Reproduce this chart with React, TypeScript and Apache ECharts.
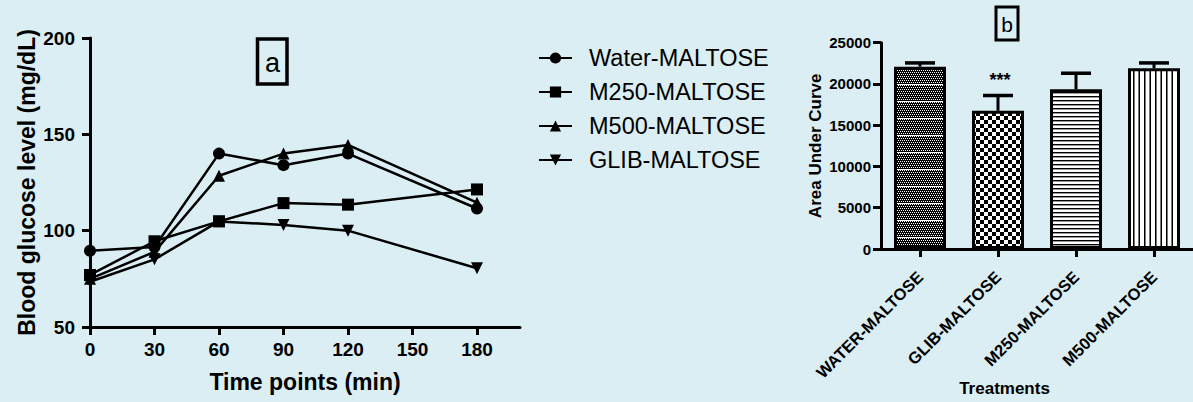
import React, { useEffect, useRef } from 'react';
import * as echarts from 'echarts';

// ---- Data (panel a) ----
const timePoints = [0, 30, 60, 90, 120, 180];
const timeTicks = [0, 30, 60, 90, 120, 150, 180];
const waterMaltose = [89.6, 91.5, 140, 134, 140, 111.5];
const m250Maltose = [77, 94.5, 104.8, 114.3, 113.5, 121.4];
const m500Maltose = [75, 89, 128.5, 140, 144.5, 114.5];
const glibMaltose = [73.5, 85.1, 104.8, 103, 100, 80.5];
const seriesNames = ['Water-MALTOSE', 'M250-MALTOSE', 'M500-MALTOSE', 'GLIB-MALTOSE'];

// ---- Data (panel b) ----
const treatments = ['WATER-MALTOSE', 'GLIB-MALTOSE', 'M250-MALTOSE', 'M500-MALTOSE'];
const aucMean = [22100, 16750, 19350, 21900];
const aucSem = [450, 1850, 1950, 650];
const aucSig = ['', '***', '', ''];

const FONT = "'Liberation Sans', Arial, sans-serif";
const BG = '#DAEEF3';

function makePattern(w: number, h: number, draw: (ctx: CanvasRenderingContext2D) => void) {
  const c = document.createElement('canvas');
  c.width = w;
  c.height = h;
  const ctx = c.getContext('2d') as CanvasRenderingContext2D;
  ctx.fillStyle = '#fff';
  ctx.fillRect(0, 0, w, h);
  ctx.fillStyle = '#000';
  draw(ctx);
  return { image: c, repeat: 'repeat', imageWidth: w, imageHeight: h } as any;
}

function boldLabel(size: number) {
  return {
    formatter: (v: any) => '{b|' + v + '}',
    rich: { b: { fontSize: size, fontWeight: 'bold', fontFamily: FONT, color: '#000' } },
    fontSize: size,
    fontWeight: 'bold',
    fontFamily: FONT,
    color: '#000',
  };
}

export default function App() {
  const ref = useRef<HTMLDivElement>(null);
  useEffect(() => {
    document.body.style.margin = '0';
    const chart = echarts.init(ref.current as HTMLDivElement, null, { renderer: 'svg' });

    const waterPat = makePattern(4, 17, (ctx) => {
      ctx.fillRect(0, 0, 4, 16);
      ctx.fillStyle = '#fff';
      for (let y = 0; y < 16; y += 2) {
        for (let x = 0; x < 4; x += 2) {
          ctx.fillRect(x + ((y / 2) % 2), y, 1, 1);
        }
      }
    });
    const glibPat = makePattern(8, 8, (ctx) => {
      ctx.fillRect(0, 0, 4, 4);
      ctx.fillRect(4, 4, 4, 4);
    });
    const m250Pat = makePattern(4, 4, (ctx) => {
      ctx.fillRect(0, 0, 4, 1);
      ctx.fillStyle = '#999';
      ctx.fillRect(0, 1, 4, 1);
    });
    const m500Pat = makePattern(11, 4, (ctx) => {
      ctx.fillRect(0, 0, 1, 4);
      ctx.fillRect(6, 0, 1, 4);
      ctx.fillStyle = '#777';
      ctx.fillRect(1, 0, 1, 4);
      ctx.fillRect(5, 0, 1, 4);
    });
    const patterns = [waterPat, glibPat, m250Pat, m500Pat];

    const lineData = [waterMaltose, m250Maltose, m500Maltose, glibMaltose];
    const symbols = ['circle', 'rect', 'triangle', 'triangle'];
    const rotates = [0, 0, 0, 180];

    const axisLine = { show: true, lineStyle: { color: '#000', width: 3 } };
    const axisTick = { show: true, length: 8, lineStyle: { color: '#000', width: 3 } };

    const option: any = {
      animation: false,
      backgroundColor: BG,
      textStyle: { fontFamily: FONT, color: '#000' },
      grid: [
        { left: 90, top: 38, width: 430, height: 289 },
        { left: 881, top: 42.7, width: 316.8, height: 213 },
      ],
      legend: {
        left: 533,
        top: 41,
        orient: 'vertical',
        itemWidth: 33,
        itemHeight: 14,
        itemGap: 10,
        data: seriesNames,
        textStyle: { fontSize: 23.5, color: '#000', fontFamily: FONT, padding: [0, 0, 0, 12] },
      },
      xAxis: [
        {
          type: 'value',
          gridIndex: 0,
          min: 0,
          max: 200,
          interval: 30,
          axisLine,
          axisTick: { ...axisTick, customValues: timeTicks },
          splitLine: { show: false },
          axisLabel: { ...boldLabel(19), customValues: timeTicks, margin: 13 },
          name: 'Time points (min)',
          nameLocation: 'middle',
          nameGap: 43,
          nameMoveOverlap: false,
          nameTextStyle: { fontSize: 23, fontWeight: 'bold', color: '#000' },
        },
        {
          type: 'category',
          gridIndex: 1,
          data: treatments,
          axisLine,
          axisTick: { ...axisTick, alignWithLabel: true },
          axisLabel: { ...boldLabel(16.5), rotate: 45, interval: 0, margin: 25 },
          name: 'Treatments',
          nameLocation: 'middle',
          nameGap: 131,
          nameMoveOverlap: false,
          nameTextStyle: { fontSize: 17, fontWeight: 'bold', color: '#000', padding: [0, 65, 0, 0] },
        },
      ],
      yAxis: [
        {
          type: 'value',
          gridIndex: 0,
          min: 50,
          max: 200,
          interval: 50,
          axisLine,
          axisTick,
          splitLine: { show: false },
          axisLabel: { ...boldLabel(19), margin: 15 },
          name: 'Blood glucose level (mg/dL)',
          nameLocation: 'middle',
          nameGap: 52,
          nameMoveOverlap: false,
          nameTextStyle: { fontSize: 23, fontWeight: 'bold', color: '#000' },
        },
        {
          type: 'value',
          gridIndex: 1,
          min: 0,
          max: 25000,
          interval: 5000,
          axisLine,
          axisTick,
          splitLine: { show: false },
          axisLabel: { ...boldLabel(15), margin: 10 },
          name: 'Area Under Curve',
          nameLocation: 'middle',
          nameGap: 57,
          nameMoveOverlap: false,
          nameTextStyle: { fontSize: 17, fontWeight: 'bold', color: '#000' },
        },
      ],
      series: [
        ...seriesNames.map((name, i) => ({
          name,
          type: 'line',
          xAxisIndex: 0,
          yAxisIndex: 0,
          data: timePoints.map((t, j) => [t, lineData[i][j]]),
          symbol: symbols[i],
          symbolRotate: rotates[i],
          symbolSize: 12,
          showAllSymbol: true,
          lineStyle: { color: '#000', width: 2.5 },
          itemStyle: { color: '#000', borderColor: '#000', borderWidth: 0 },
          z: 2 + i,
        })),
        {
          name: 'AUC',
          type: 'bar',
          xAxisIndex: 1,
          yAxisIndex: 1,
          barWidth: 52,
          data: aucMean.map((v, i) => ({ value: v, itemStyle: { color: patterns[i] } })),
          itemStyle: { borderColor: '#000', borderWidth: 3 },
          z: 2,
        },
        {
          name: 'AUC error',
          type: 'custom',
          xAxisIndex: 1,
          yAxisIndex: 1,
          data: aucMean.map((m, i) => [i, m, m + aucSem[i]]),
          encode: { x: 0, y: [1, 2] },
          z: 3,
          renderItem: (params: any, api: any) => {
            const x = api.value(0);
            const base = api.coord([x, api.value(1)]);
            const top = api.coord([x, api.value(2)]);
            const sig = aucSig[params.dataIndex];
            const children: any[] = [
              { type: 'line', shape: { x1: base[0], y1: base[1], x2: top[0], y2: top[1] }, style: { stroke: '#000', lineWidth: 3 } },
              { type: 'line', shape: { x1: top[0] - 15, y1: top[1], x2: top[0] + 15, y2: top[1] }, style: { stroke: '#000', lineWidth: 3.5 } },
            ];
            if (sig) {
              children.push({
                type: 'text',
                x: top[0] + 2,
                y: top[1] - 16,
                style: { text: sig, fontSize: 18, fontWeight: 'bold', fontFamily: FONT, fill: '#000', align: 'center', verticalAlign: 'middle' },
              });
            }
            return { type: 'group', children };
          },
        },
      ],
      graphic: [
        { type: 'rect', shape: { x: 257.5, y: 39, width: 29.5, height: 45 }, style: { fill: 'none', stroke: '#000', lineWidth: 3.5 } },
        { type: 'text', x: 272.5, y: 63, style: { text: 'a', fontSize: 27, fontFamily: FONT, fill: '#000', align: 'center', verticalAlign: 'middle' } },
        { type: 'rect', shape: { x: 996, y: 7, width: 22, height: 33 }, style: { fill: 'none', stroke: '#000', lineWidth: 3 } },
        { type: 'text', x: 1007, y: 24, style: { text: 'b', fontSize: 21, fontFamily: FONT, fill: '#000', align: 'center', verticalAlign: 'middle' } },
      ],
    };
    chart.setOption(option);
    return () => chart.dispose();
  }, []);
  return <div ref={ref} style={{ position: 'fixed', left: 0, top: 0, width: 1193, height: 402 }} />;
}
